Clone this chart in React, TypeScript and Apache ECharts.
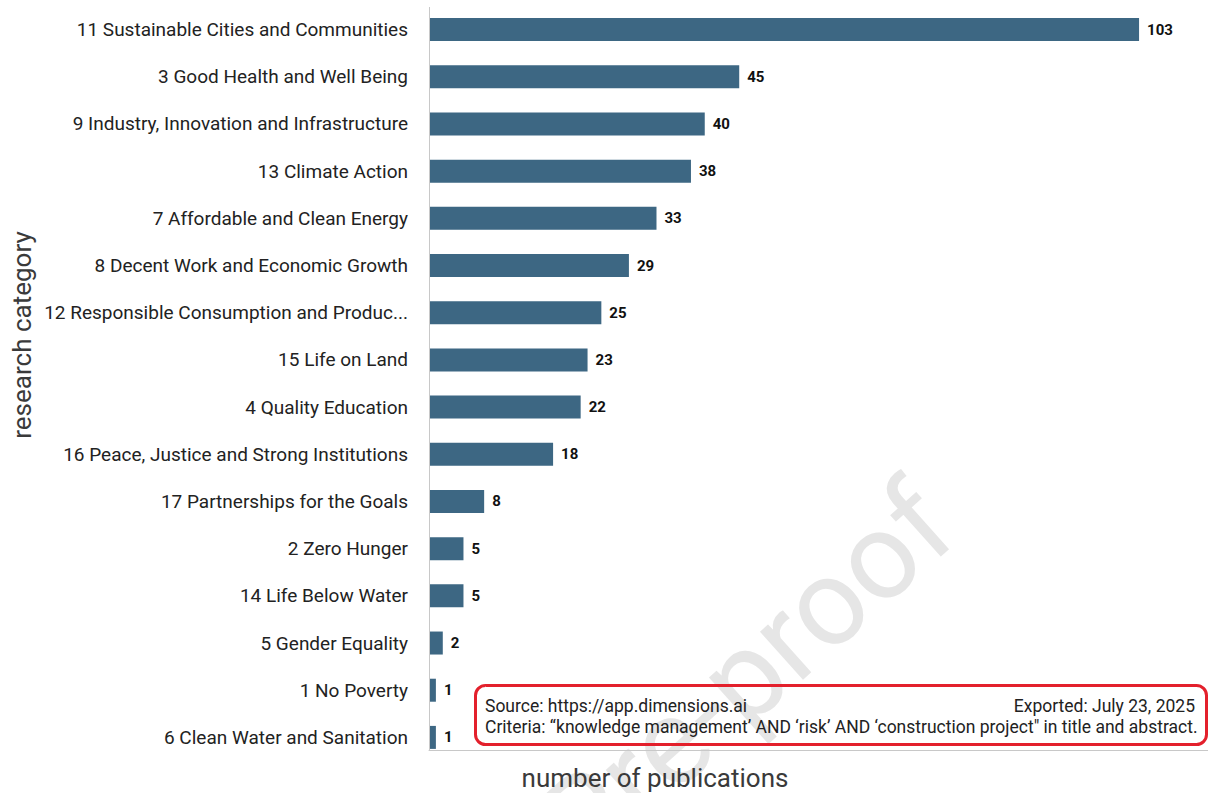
import React, { useEffect, useRef } from "react";
import * as echarts from "echarts";

const categories = [
  "11 Sustainable Cities and Communities",
  "3 Good Health and Well Being",
  "9 Industry, Innovation and Infrastructure",
  "13 Climate Action",
  "7 Affordable and Clean Energy",
  "8 Decent Work and Economic Growth",
  "12 Responsible Consumption and Produc...",
  "15 Life on Land",
  "4 Quality Education",
  "16 Peace, Justice and Strong Institutions",
  "17 Partnerships for the Goals",
  "2 Zero Hunger",
  "14 Life Below Water",
  "5 Gender Equality",
  "1 No Poverty",
  "6 Clean Water and Sanitation",
];
const publications = [103, 45, 40, 38, 33, 29, 25, 23, 22, 18, 8, 5, 5, 2, 1, 1];

const xTitle = "number of publications";
const yTitle = "research category";
const sourceText = "Source: https://app.dimensions.ai";
const exportedText = "Exported: July 23, 2025";
const criteriaText =
  "Criteria: \u201Cknowledge management\u2019 AND \u2018risk\u2019 AND \u2018construction project\" in title and abstract.";
const watermark = "Journal Pre-proof";

const FONT = "Roboto, 'Noto Sans', sans-serif";

export default function App() {
  const ref = useRef<HTMLDivElement>(null);
  useEffect(() => {
    if (!ref.current) return;
    const chart = echarts.init(ref.current, null, { renderer: "svg" });
    chart.setOption({
      animation: false,
      backgroundColor: "#ffffff",
      textStyle: { fontFamily: FONT },
      grid: { left: 429, right: 0, top: 6, bottom: 32, containLabel: false },
      xAxis: {
        type: "value",
        min: 0,
        max: 113,
        offset: -11,
        axisLine: { show: true, lineStyle: { color: "#c8c8c8", width: 1 } },
        axisTick: { show: false },
        axisLabel: { show: false },
        splitLine: { show: false },
      },
      yAxis: {
        type: "category",
        inverse: true,
        data: categories,
        axisLine: { show: false },
        axisTick: { show: false },
        axisLabel: {
          fontSize: 19,
          color: "#222222",
          margin: 21,
          fontFamily: FONT,
        },
      },
      series: [
        {
          type: "bar",
          data: publications,
          barWidth: 23,
          itemStyle: { color: "#3d6783" },
          label: {
            show: true,
            position: "right",
            distance: 8,
            fontSize: 15,
            fontWeight: "bold",
            color: "#111111",
            fontFamily: FONT,
          },
        },
      ],
      graphic: [
        {
          type: "text",
          x: 975,
          y: 552,
          rotation: 0.73,
          z: -10,
          silent: true,
          style: {
            text: watermark,
            fontSize: 122,
            fontFamily: FONT,
            fill: "#e6e6e6",
            textAlign: "right",
            textVerticalAlign: "bottom",
          },
        },
        {
          type: "line",
          z: 5,
          shape: { x1: 429.5, y1: 7, x2: 429.5, y2: 750 },
          style: { stroke: "#c8c8c8", lineWidth: 1 },
        },
        {
          type: "text",
          x: 655,
          y: 778,
          style: {
            text: xTitle,
            fontSize: 26,
            fontFamily: FONT,
            fill: "#3a3a3a",
            textAlign: "center",
            textVerticalAlign: "middle",
          },
        },
        {
          type: "text",
          x: 22,
          y: 335,
          rotation: Math.PI / 2,
          style: {
            text: yTitle,
            fontSize: 26,
            fontFamily: FONT,
            fill: "#3a3a3a",
            textAlign: "center",
            textVerticalAlign: "middle",
          },
        },
        {
          type: "rect",
          z: 100,
          shape: { x: 475.5, y: 685.5, width: 731, height: 59, r: 10 },
          style: { fill: "rgba(255,255,255,0)", stroke: "#e3202c", lineWidth: 3 },
        },
        {
          type: "text",
          z: 100,
          x: 485,
          y: 706,
          style: {
            text: sourceText,
            fontSize: 17.5,
            fontFamily: FONT,
            fill: "#222222",
            textAlign: "left",
            textVerticalAlign: "middle",
          },
        },
        {
          type: "text",
          z: 100,
          x: 1195,
          y: 706,
          style: {
            text: exportedText,
            fontSize: 17.5,
            fontFamily: FONT,
            fill: "#222222",
            textAlign: "right",
            textVerticalAlign: "middle",
          },
        },
        {
          type: "text",
          z: 100,
          x: 485,
          y: 727,
          style: {
            text: criteriaText,
            fontSize: 17.5,
            fontFamily: FONT,
            fill: "#222222",
            textAlign: "left",
            textVerticalAlign: "middle",
          },
        },
      ],
    });
    return () => chart.dispose();
  }, []);
  return (
    <div
      ref={ref}
      style={{ position: "fixed", left: 0, top: 0, width: 1208, height: 793 }}
    />
  );
}
